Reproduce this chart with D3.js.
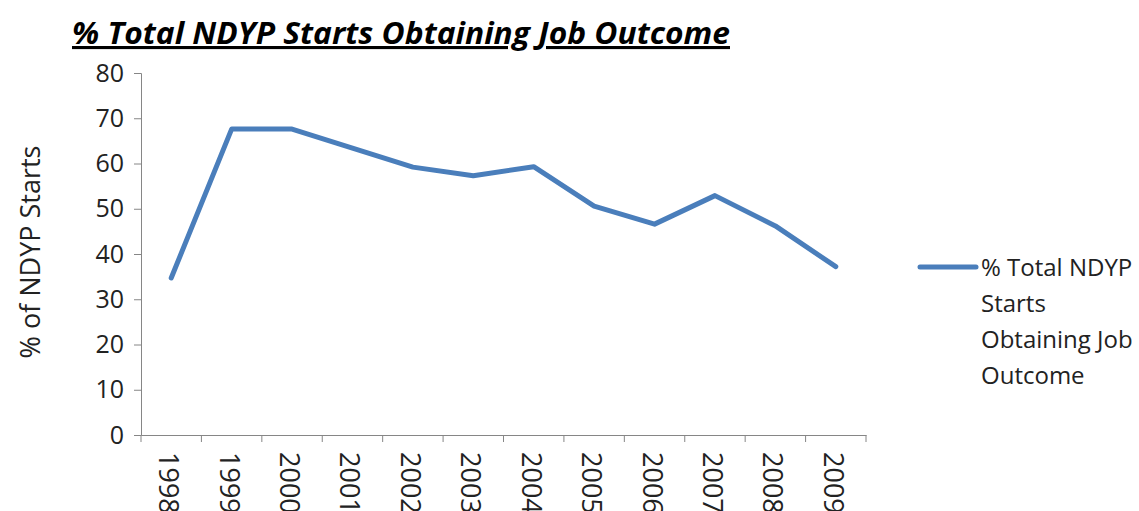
<!DOCTYPE html>
<html>
<head>
<meta charset="utf-8">
<script src="https://cdn.jsdelivr.net/npm/d3@7"></script>
<style>
  body { margin: 0; background: #fff; }
  text { font-family: "Open Sans", Lato, sans-serif; }
</style>
</head>
<body>
<script>
const years = ['1998', '1999', '2000', '2001', '2002', '2003', '2004', '2005', '2006', '2007', '2008', '2009']
const pctJobOutcome = [34.7, 67.6, 67.6, 63.4, 59.2, 57.3, 59.3, 50.6, 46.6, 52.9, 46.2, 37.2]
const yTicks = [0, 10, 20, 30, 40, 50, 60, 70, 80]
const seriesName = ['% Total NDYP', 'Starts', 'Obtaining Job', 'Outcome']

const W = 1139, H = 511
const margin = { left: 141, top: 73, right: 273, bottom: 76 }
const width = W - margin.left - margin.right
const height = H - margin.top - margin.bottom

const svg = d3.select('body').append('svg')
  .attr('width', W)
  .attr('height', H)

// title
svg.append('text')
  .attr('x', 72)
  .attr('y', 44)
  .attr('font-family', 'Lato, sans-serif')
  .attr('font-size', 31)
  .attr('font-weight', 'bold')
  .attr('font-style', 'italic')
  .attr('text-decoration', 'underline')
  .attr('textLength', 658)
  .attr('lengthAdjust', 'spacingAndGlyphs')
  .attr('fill', '#000')
  .text('% Total NDYP Starts Obtaining Job Outcome')

const g = svg.append('g')
  .attr('transform', 'translate(' + margin.left + ',' + margin.top + ')')

const x = d3.scaleBand().domain(years).range([0, width])
const y = d3.scaleLinear().domain([0, 80]).range([height, 0])

// y axis
const yAxis = g.append('g')
  .call(d3.axisLeft(y).tickValues(yTicks).tickSize(7).tickPadding(10))
yAxis.select('.domain').attr('stroke', '#868686')
yAxis.selectAll('.tick line').attr('stroke', '#868686')
yAxis.selectAll('.tick text')
  .attr('font-size', 25)
  .attr('fill', '#222')
  .attr('font-family', '"Open Sans", sans-serif')

// x axis
const xAxis = g.append('g')
  .attr('transform', 'translate(0,' + height + ')')
  .call(d3.axisBottom(x).tickSize(0).tickFormat(''))
xAxis.select('.domain').attr('stroke', '#868686')

// category boundary ticks
g.append('g').selectAll('line')
  .data(years.concat(['end']))
  .enter().append('line')
    .attr('x1', (d, i) => i < years.length ? x(d) : width)
    .attr('x2', (d, i) => i < years.length ? x(d) : width)
    .attr('y1', height)
    .attr('y2', height + 7)
    .attr('stroke', '#868686')

g.append('g').selectAll('text')
  .data(years)
  .enter().append('text')
    .attr('transform', (d) => 'translate(' + (x(d) + x.bandwidth() / 2 - 12) + ',' + (height + 17) + ') rotate(90)')
    .attr('font-size', 27)
    .attr('fill', '#222')
    .text((d) => d)

// y axis title
svg.append('text')
  .attr('transform', 'translate(40,' + (margin.top + height / 2 - 2) + ') rotate(-90)')
  .attr('text-anchor', 'middle')
  .attr('font-size', 27)
  .attr('fill', '#222')
  .text('% of NDYP Starts')

// line
const line = d3.line()
  .x((d, i) => x(years[i]) + x.bandwidth() / 2)
  .y((d) => y(d))

g.append('path')
  .datum(pctJobOutcome)
  .attr('fill', 'none')
  .attr('stroke', '#4a7ebb')
  .attr('stroke-width', 5)
  .attr('stroke-linejoin', 'round')
  .attr('stroke-linecap', 'round')
  .attr('d', line)

// legend
const legend = svg.append('g').attr('transform', 'translate(920,267)')
legend.append('line')
  .attr('x1', 0).attr('x2', 56)
  .attr('y1', 0).attr('y2', 0)
  .attr('stroke', '#4a7ebb')
  .attr('stroke-width', 5)
  .attr('stroke-linecap', 'round')
legend.selectAll('text')
  .data(seriesName)
  .enter().append('text')
    .attr('x', 61)
    .attr('y', (d, i) => 9 + i * 36)
    .attr('font-size', 24)
    .attr('fill', '#222')
    .text((d) => d)
</script>
</body>
</html>
